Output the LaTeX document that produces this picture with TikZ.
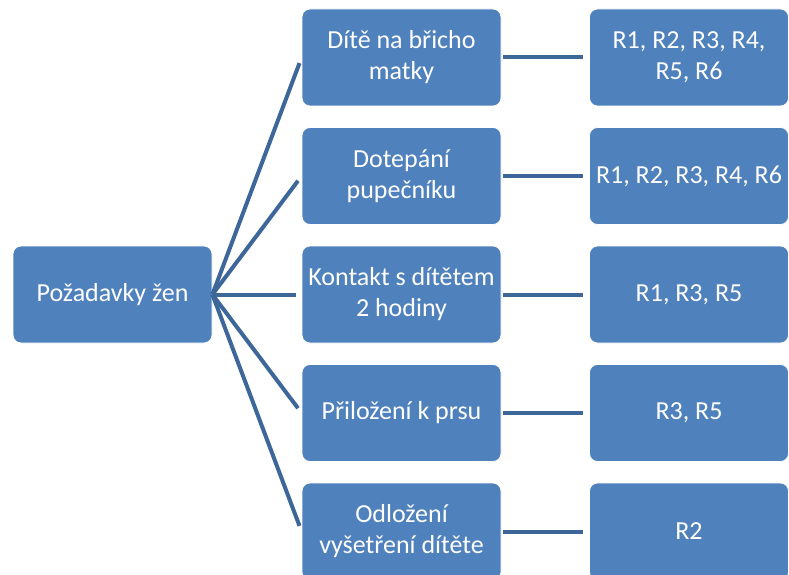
\documentclass[tikz,border=0pt]{standalone}
\usepackage{fontspec}
\setmainfont{Carlito}
\definecolor{boxblue}{HTML}{4F81BD}
\definecolor{lineblue}{HTML}{3D6699}
\begin{document}
\begin{tikzpicture}[x=1pt,y=-1pt,
  box/.style={fill=boxblue, draw=white, line width=0.8pt, rounded corners=8pt,
    minimum width=199pt, minimum height=97pt, text=white, align=center,
    font=\fontsize{26}{31}\selectfont, inner sep=2pt},
  conn/.style={draw=lineblue, line width=4pt}]
\useasboundingbox (0,0) rectangle (789,575);
\node[box] (root) at (112.5,294.5) {Požadavky žen};
\node[box] (m1) at (401.5,57.5) {Dítě na břicho\\matky};
\node[box] (m2) at (401.5,176) {Dotepání\\pupečníku};
\node[box] (m3) at (401.5,294.5) {Kontakt s dítětem\\2 hodiny};
\node[box] (m4) at (401.5,413) {Přiložení k prsu};
\node[box] (m5) at (401.5,531.5) {Odložení\\vyšetření dítěte};
\node[box] (r1) at (689,57.5) {R1, R2, R3, R4,\\R5, R6};
\node[box] (r2) at (689,176) {R1, R2, R3, R4, R6};
\node[box] (r3) at (689,294.5) {R1, R3, R5};
\node[box] (r4) at (689,413) {R3, R5};
\node[box] (r5) at (689,531.5) {R2};
\foreach \i in {1,...,5}{
  \draw[conn, shorten >=6pt] (root.east) -- (m\i.west);
  \draw[conn, shorten <=2pt, shorten >=6pt] (m\i.east) -- (r\i.west);
}
\end{tikzpicture}
\end{document}
